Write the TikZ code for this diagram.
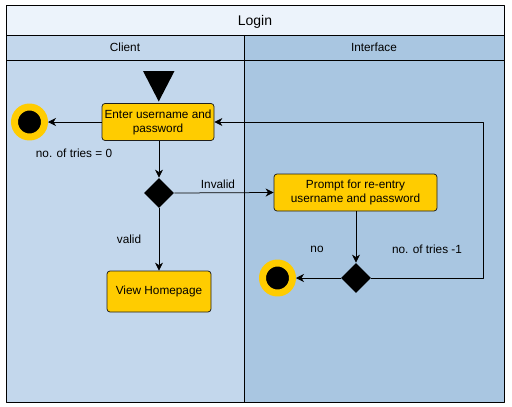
\documentclass[tikz,border=0pt]{standalone}
\usepackage{fontspec}
\setmainfont{Liberation Sans}
\usetikzlibrary{arrows.meta,shapes.geometric}

\definecolor{titlefill}{RGB}{236,243,251}
\definecolor{clientfill}{RGB}{195,215,236}
\definecolor{ifacefill}{RGB}{169,198,225}
\definecolor{actfill}{RGB}{255,204,0}
\definecolor{actborder}{RGB}{30,30,30}

\begin{document}
\begin{tikzpicture}[x=1pt, y=-1pt, line width=0.75pt, line join=round,
  font=\fontsize{11.8}{14}\selectfont,
  act/.style={draw=actborder, fill=actfill, rounded corners=3pt, align=center, inner sep=0pt},
  decision/.style={diamond, fill=black, minimum width=30pt, minimum height=30pt, inner sep=0pt},
  finalnode/.style={circle, draw=actfill, fill=black, line width=7pt, minimum size=30pt, inner sep=0pt},
  flow/.style={-{Stealth[length=8pt, width=8pt, inset=2.5pt]}},
  lbl/.style={inner sep=0pt}]

  %% ==== swimlanes ====
  \fill[clientfill] (6,35) rectangle (244,402);
  \fill[ifacefill] (244,35) rectangle (504,402);
  \fill[titlefill] (6,5) rectangle (504,35);
  \draw (6,5) rectangle (504,402);
  \draw (6,35) -- (504,35);
  \draw (6,60) -- (504,60);
  \draw (244,35) -- (244,402);
  \node[lbl, font=\fontsize{14}{16}\selectfont] (title) at (255,21.5) {Login};
  \node[lbl] (client) at (125,47.5) {Client};
  \node[lbl] (iface) at (374,47.5) {Interface};

  %% ==== start ====
  \fill (143,71) -- (174.5,71) -- (158.75,101.5) -- cycle;

  %% ==== activities ====
  \node[act, minimum width=112pt, minimum height=37pt] (enter) at (158,122) {Enter username and\\password};
  \node[act, minimum width=163pt, minimum height=37pt] (prompt) at (355.5,192.5) {Prompt for re-entry\\username and password};
  \node[act, minimum width=104pt, minimum height=41pt] (home) at (159,291.5) {View Homepage};

  \node[decision] (check) at (159,193) {};
  \node[decision] (tries) at (356,278) {};

  \node[finalnode] (endleft) at (29.5,122) {};
  \node[finalnode] (endright) at (277.5,278) {};
  \coordinate (loopc) at (483,122);

  %% ==== flows ====
  \draw[flow] (enter.west) -- (endleft.east);
  \draw[flow] (check.north |- enter.south) -- (check.north);
  \draw[flow] (check.east) -- (prompt.west);
  \draw[flow] (check.south) -- (home.north);
  \draw[flow] (tries.north |- prompt.south) -- (tries.north);
  \draw[flow] (tries.west) -- (endright.east);
  \draw[flow] (tries.east) -| (loopc) -- (enter.east);

  %% ==== labels ====
  \node[lbl] (zero) at (74,153) {no. of tries = 0};
  \node[lbl] (invalid) at (218,184) {Invalid};
  \node[lbl] (valid) at (129,239) {valid};
  \node[lbl] (no) at (317,249) {no};
  \node[lbl] (minus) at (427,249) {no. of tries -1};

  \pgfresetboundingbox
  \path[use as bounding box] (0,0) rectangle (512,407);
\end{tikzpicture}
\end{document}
